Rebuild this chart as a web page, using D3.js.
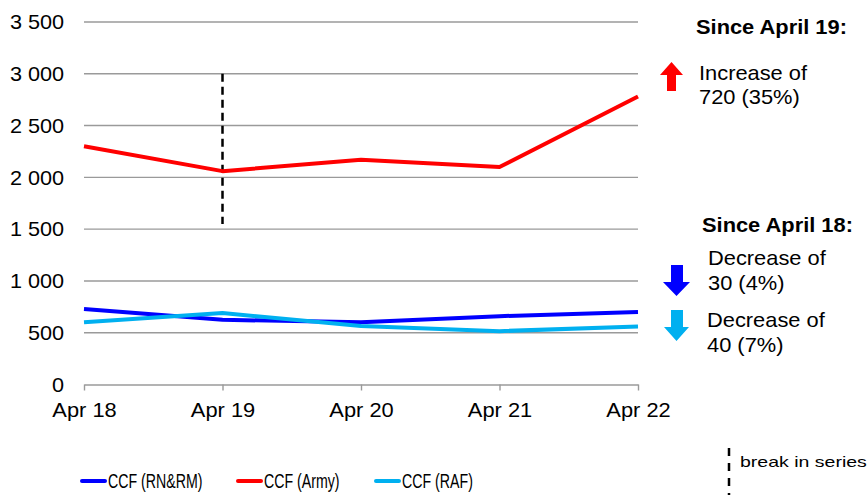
<!DOCTYPE html>
<html>
<head>
<meta charset="utf-8">
<script src="https://cdn.jsdelivr.net/npm/d3@7"></script>
<style>
  body { margin: 0; background: #fff; }
  text { font-family: "Liberation Sans", Arial, sans-serif; fill: #000; }
</style>
</head>
<body>
<div id="chart"></div>
<script>
// data
let months = ["Apr 18", "Apr 19", "Apr 20", "Apr 21", "Apr 22"];
let navy = [730, 625, 600, 660, 700];
let army = [2300, 2060, 2170, 2100, 2780];
let raf = [600, 690, 565, 515, 560];
let yTicks = [0, 500, 1000, 1500, 2000, 2500, 3000, 3500];

let seriesNames = ["CCF (RN&RM)", "CCF (Army)", "CCF (RAF)"];
let seriesColors = ["#0000ff", "#ff0000", "#00b0f0"];
let allSeries = [navy, army, raf];

let width = 868, height = 495;
let margin = {top: 22, right: 230, bottom: 110, left: 84};

let svg = d3.select("#chart")
    .append("svg")
        .attr("width", width)
        .attr("height", height);

// widen / squeeze text to match the original glyph widths
function stretch(sel, f) {
    sel.each(function() {
        let w = this.getComputedTextLength();
        d3.select(this)
            .attr("textLength", w * f)
            .attr("lengthAdjust", "spacingAndGlyphs");
    });
}

let x = d3.scalePoint()
    .domain(months)
    .range([margin.left, width - margin.right]);

let y = d3.scaleLinear()
    .domain([0, 3500])
    .range([384.5, margin.top]);

let fmt = d => d3.format(",")(d).replace(",", " ");

// gridlines
svg.append("g")
    .selectAll("line")
    .data(yTicks.slice(1))
    .enter()
    .append("line")
        .attr("x1", x.range()[0])
        .attr("x2", x.range()[1])
        .attr("y1", d => y(d))
        .attr("y2", d => y(d))
        .attr("stroke", "#9a9a9a")
        .attr("stroke-width", 1.4);

// y axis labels
let yAxis = svg.append("g")
    .attr("transform", "translate(" + margin.left + ",0)")
    .call(d3.axisLeft(y).tickValues(yTicks).tickFormat(fmt).tickSize(0).tickPadding(20));
yAxis.select(".domain").remove();
yAxis.selectAll("text")
    .style("font-size", "21px")
    .style("font-family", "Liberation Sans, Arial, sans-serif")
    .call(stretch, 1.03);

// x axis
let xAxis = svg.append("g")
    .attr("transform", "translate(0," + y(0) + ")")
    .call(d3.axisBottom(x).tickSizeOuter(0).tickSizeInner(6).tickPadding(12));
xAxis.select(".domain").attr("stroke", "#9a9a9a").attr("stroke-width", 1.4);
xAxis.selectAll(".tick line").attr("stroke", "#9a9a9a").attr("stroke-width", 1.4);
xAxis.selectAll("text")
    .style("font-size", "21px")
    .style("font-family", "Liberation Sans, Arial, sans-serif")
    .call(stretch, 1.04);

// break in series
svg.append("line")
    .attr("x1", x("Apr 19"))
    .attr("x2", x("Apr 19"))
    .attr("y1", y(3000))
    .attr("y2", y(1550))
    .attr("stroke", "#000")
    .attr("stroke-width", 2.5)
    .attr("stroke-dasharray", "8,5");

// lines
let line = d3.line()
    .x((d, i) => x(months[i]))
    .y(d => y(d));

allSeries.forEach((s, i) => {
    svg.append("path")
        .datum(s)
        .attr("fill", "none")
        .attr("stroke", seriesColors[i])
        .attr("stroke-width", 4)
        .attr("stroke-linejoin", "round")
        .attr("d", line);
});

// annotations
let ann = svg.append("g");
let notes = [
    [696, 34, "Since April 19:", true],
    [699, 80, "Increase of", false],
    [699, 104, "720 (35%)", false],
    [702, 232, "Since April 18:", true],
    [708, 265, "Decrease of", false],
    [708, 290, "30 (4%)", false],
    [707, 327, "Decrease of", false],
    [707, 352, "40 (7%)", false]
];
notes.forEach(n => {
    ann.append("text")
        .attr("x", n[0]).attr("y", n[1])
        .style("font-size", "21px")
        .style("font-weight", n[3] ? "bold" : "normal")
        .text(n[2]);
});
ann.selectAll("text").call(stretch, 1.04);

// arrows
ann.append("path")
    .attr("d", "M671.5,62 L683,75 L676,75 L676,91 L667,91 L667,75 L660,75 Z")
    .attr("fill", "#ff0000");
ann.append("path")
    .attr("d", "M671,265 L683,265 L683,282 L690,282 L676.5,296 L663,282 L671,282 Z")
    .attr("fill", "#0000ff");
ann.append("path")
    .attr("d", "M671,310 L683,310 L683,327 L689,327 L676.5,341 L664,327 L671,327 Z")
    .attr("fill", "#00b0f0");

// legend
let legX = [81, 237, 375];
let legend = svg.append("g");
seriesNames.forEach((n, i) => {
    legend.append("line")
        .attr("x1", legX[i] + 1).attr("x2", legX[i] + 24)
        .attr("y1", 481).attr("y2", 481)
        .attr("stroke", seriesColors[i])
        .attr("stroke-width", 4)
        .attr("stroke-linecap", "round");
    legend.append("text")
        .attr("x", legX[i] + 27).attr("y", 488)
        .style("font-size", "21px")
        .text(n)
        .call(stretch, 0.675);
});
legend.append("line")
    .attr("x1", 729).attr("x2", 729)
    .attr("y1", 448).attr("y2", 495)
    .attr("stroke", "#000")
    .attr("stroke-width", 2.5)
    .attr("stroke-dasharray", "8,7");
legend.append("text")
    .attr("x", 740).attr("y", 467)
    .style("font-size", "15px")
    .text("break in series")
    .call(stretch, 1.3);
</script>
</body>
</html>
